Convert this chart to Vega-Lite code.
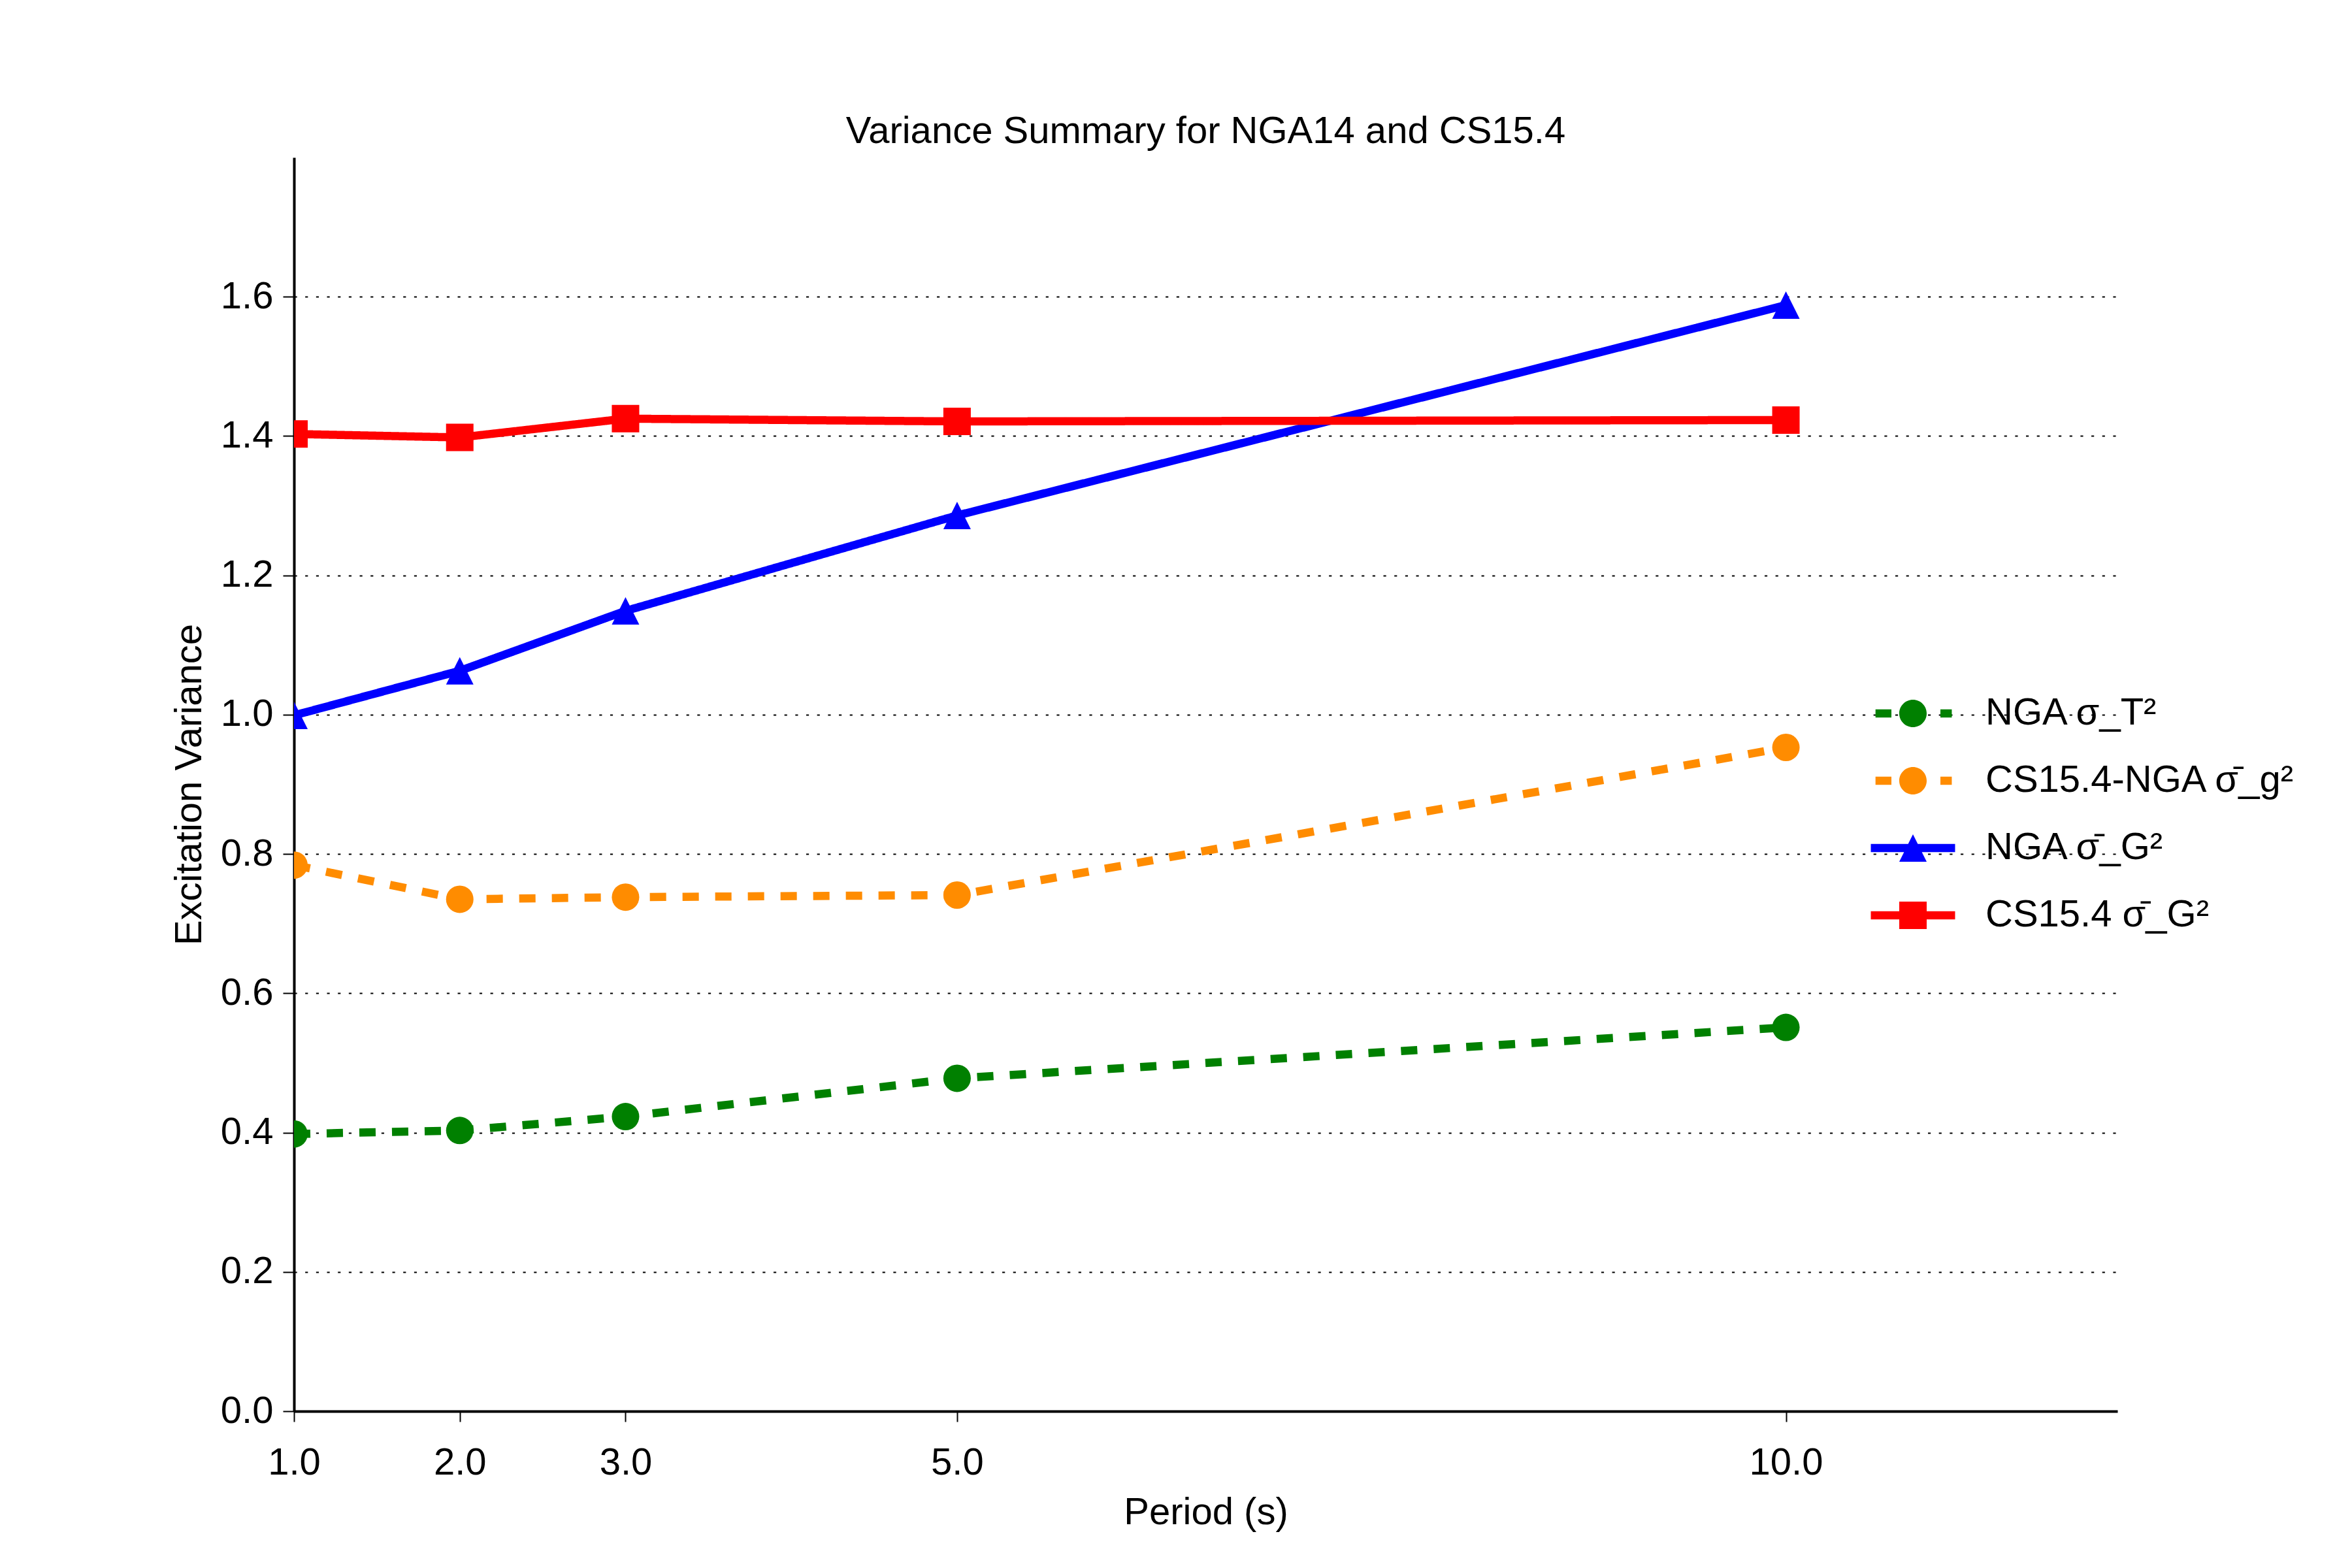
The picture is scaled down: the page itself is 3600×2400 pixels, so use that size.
{
  "$schema": "https://vega.github.io/schema/vega-lite/v6.json",
  "width": 2791,
  "height": 1919,
  "autosize": {"type": "none"},
  "padding": {"left": 450, "top": 241, "right": 359, "bottom": 240},
  "background": "white",
  "config": {"view": {"stroke": null}, "font": "Liberation Sans"},
  "title": {"text": "Variance Summary for NGA14 and CS15.4", "fontSize": 58, "font": "Liberation Sans", "fontWeight": "normal", "color": "black", "anchor": "middle", "frame": "group", "baseline": "alphabetic", "offset": -36},
  "data": {"values": [
    {"series": "NGA σ_T²", "period": 1, "variance": 0.398},
    {"series": "NGA σ_T²", "period": 2, "variance": 0.403},
    {"series": "NGA σ_T²", "period": 3, "variance": 0.423},
    {"series": "NGA σ_T²", "period": 5, "variance": 0.478},
    {"series": "NGA σ_T²", "period": 10, "variance": 0.551},
    {"series": "CS15.4-NGA σ̄_g²", "period": 1, "variance": 0.784},
    {"series": "CS15.4-NGA σ̄_g²", "period": 2, "variance": 0.735},
    {"series": "CS15.4-NGA σ̄_g²", "period": 3, "variance": 0.738},
    {"series": "CS15.4-NGA σ̄_g²", "period": 5, "variance": 0.741},
    {"series": "CS15.4-NGA σ̄_g²", "period": 10, "variance": 0.953},
    {"series": "NGA σ̄_G²", "period": 1, "variance": 0.999},
    {"series": "NGA σ̄_G²", "period": 2, "variance": 1.063},
    {"series": "NGA σ̄_G²", "period": 3, "variance": 1.149},
    {"series": "NGA σ̄_G²", "period": 5, "variance": 1.286},
    {"series": "NGA σ̄_G²", "period": 10, "variance": 1.588},
    {"series": "CS15.4 σ̄_G²", "period": 1, "variance": 1.403},
    {"series": "CS15.4 σ̄_G²", "period": 2, "variance": 1.398},
    {"series": "CS15.4 σ̄_G²", "period": 3, "variance": 1.425},
    {"series": "CS15.4 σ̄_G²", "period": 5, "variance": 1.421},
    {"series": "CS15.4 σ̄_G²", "period": 10, "variance": 1.423}
  ]},
  "encoding": {
    "x": {
      "field": "period", "type": "quantitative",
      "scale": {"domain": [1, 12], "nice": false, "zero": false},
      "axis": {
        "title": "Period (s)", "values": [1, 2, 3, 5, 10], "format": ".1f", "grid": false,
        "domainColor": "black", "domainWidth": 4, "tickColor": "black", "tickWidth": 2, "tickSize": 16,
        "labelPadding": 34, "labelFont": "Liberation Sans", "labelFontSize": 58, "labelColor": "black",
        "labelFlush": false, "labelOverlap": false,
        "titleFont": "Liberation Sans", "titleFontSize": 58, "titleFontWeight": "normal", "titleColor": "black", "titlePadding": 18
      }
    },
    "y": {
      "field": "variance", "type": "quantitative",
      "scale": {"domain": [0, 1.8], "nice": false, "zero": true},
      "axis": {
        "title": "Excitation Variance", "values": [0, 0.2, 0.4, 0.6, 0.8, 1.0, 1.2, 1.4, 1.6], "format": ".1f",
        "grid": true, "gridColor": "black", "gridDash": [4.17, 12.5], "gridWidth": 2, "gridOpacity": 1,
        "domainColor": "black", "domainWidth": 4, "tickColor": "black", "tickWidth": 2, "tickSize": 17,
        "labelPadding": 15, "labelFont": "Liberation Sans", "labelFontSize": 58, "labelColor": "black",
        "labelFlush": false, "labelOverlap": false,
        "titleFont": "Liberation Sans", "titleFontSize": 58, "titleFontWeight": "normal", "titleColor": "black", "titlePadding": 18
      }
    },
    "color": {
      "field": "series", "type": "nominal",
      "scale": {"domain": ["NGA σ_T²", "CS15.4-NGA σ̄_g²", "NGA σ̄_G²", "CS15.4 σ̄_G²"], "range": ["#008000", "#FF8C00", "#0000FF", "#FF0000"]},
      "legend": {
        "title": null, "orient": "none", "legendX": 2449, "legendY": 822, "padding": 0,
        "labelFont": "Liberation Sans", "labelFontSize": 58, "labelColor": "black", "labelOffset": 82, "labelLimit": 0,
        "rowPadding": 45, "symbolSize": 1764, "symbolStrokeWidth": 0, "symbolOpacity": 1,
        "encode": {
          "symbols": {
            "update": {
              "shape": {"signal": "datum.value === 'NGA σ̄_G²' ? 'M-3.07,-0.3H3.07V0.3H-3.07Z M0,-1L1,1L-1,1Z' : datum.value === 'CS15.4 σ̄_G²' ? 'M-3.07,-0.3H3.07V0.3H-3.07Z M-1,-1H1V1H-1Z' : 'M-2.73,-0.3H-1.57V0.3H-2.73Z M2.0,-0.3H2.83V0.3H2.0Z M-1,0A1,1 0 1,1 1,0A1,1 0 1,1 -1,0Z'"}
            }
          }
        }
      }
    }
  },
  "layer": [
    {
      "mark": {"type": "line", "strokeWidth": 12.5, "strokeCap": "butt", "strokeJoin": "round", "clip": true},
      "encoding": {
        "strokeDash": {
          "field": "series", "type": "nominal",
          "scale": {"domain": ["NGA σ_T²", "CS15.4-NGA σ̄_g²", "NGA σ̄_G²", "CS15.4 σ̄_G²"], "range": [[25, 25], [25, 25], [1, 0], [1, 0]]},
          "legend": null
        }
      }
    },
    {
      "mark": {"type": "point", "filled": true, "size": 1764, "opacity": 1, "strokeWidth": 0, "clip": true},
      "encoding": {
        "shape": {
          "condition": [
            {"test": "datum.series === 'NGA σ̄_G²'", "value": "M0,-1L1,1L-1,1Z"},
            {"test": "datum.series === 'CS15.4 σ̄_G²'", "value": "square"}
          ],
          "value": "circle"
        }
      }
    }
  ]
}
